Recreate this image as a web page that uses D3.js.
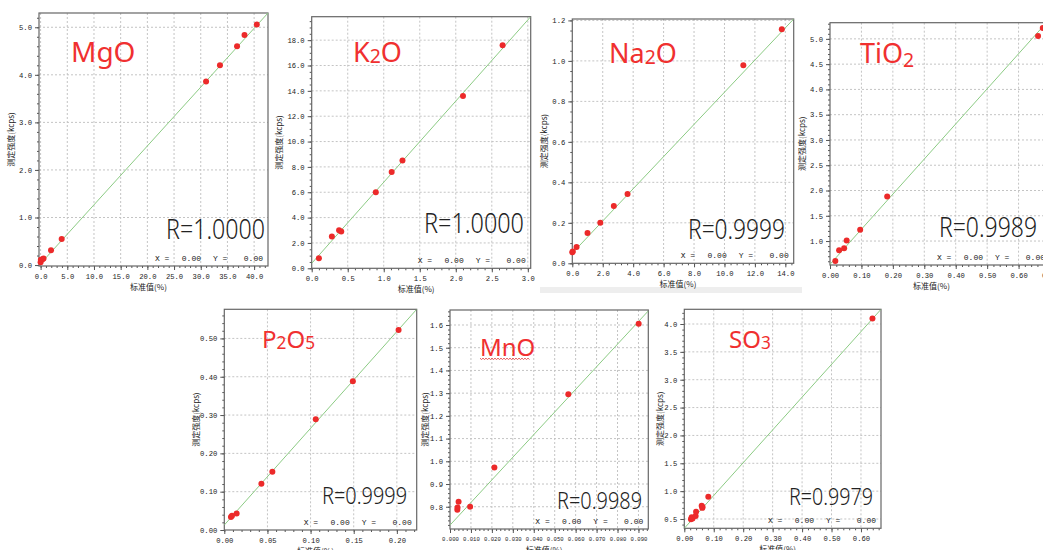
<!DOCTYPE html>
<html>
<head>
<meta charset="utf-8">
<script src="https://cdn.jsdelivr.net/npm/d3@7"></script>
<style>
  body { margin: 0; background: #fff; }
  svg { display: block; }
  .tick text { font-family: "Liberation Mono", monospace; font-size: 7.2px; fill: #222; }
  .tick line { stroke: #555; }
</style>
</head>
<body>
<svg id="chart" width="1043" height="550"></svg>
<script>
// values (x = 标准值 %, y = 测定强度 kcps)
const mgoX = [0.0, 0.05, 0.35, 0.55, 1.95, 3.95, 31.0, 33.6, 36.8, 38.2, 40.5];
const mgoY = [0.06, 0.11, 0.12, 0.14, 0.31, 0.55, 3.86, 4.20, 4.60, 4.84, 5.06];
const mgoLine = [[0, 0.03], [42.6, 5.30]];
const mgoXTicks = [0, 5, 10, 15, 20, 25, 30, 35, 40];
const mgoYTicks = [0, 1, 2, 3, 4, 5];

const k2oX = [0.10, 0.28, 0.38, 0.41, 0.89, 1.11, 1.26, 2.10, 2.65];
const k2oY = [0.79, 2.5, 3.0, 2.9, 6.0, 7.6, 8.5, 13.6, 17.6];
const k2oLine = [[0, 0.39], [3.04, 19.85]];
const k2oXTicks = [0, 0.5, 1.0, 1.5, 2.0, 2.5, 3.0];
const k2oYTicks = [0, 2, 4, 6, 8, 10, 12, 14, 16, 18];

const na2oX = [0.0, 0.03, 0.28, 1.0, 1.84, 2.73, 3.63, 11.24, 13.77];
const na2oY = [0.054, 0.058, 0.081, 0.15, 0.20, 0.283, 0.342, 0.979, 1.156];
const na2oLine = [[0, 0.05], [14.55, 1.207]];
const na2oXTicks = [0, 2, 4, 6, 8, 10, 12, 14];
const na2oYTicks = [0, 0.2, 0.4, 0.6, 0.8, 1.0, 1.2];

const tio2X = [0.017, 0.029, 0.045, 0.053, 0.096, 0.182, 0.662, 0.677];
const tio2Y = [0.605, 0.816, 0.855, 1.013, 1.224, 1.883, 5.058, 5.216];
const tio2Line = [[0, 0.539], [0.70, 5.40]];
const tio2XTicks = [0, 0.1, 0.2, 0.3, 0.4, 0.5, 0.6, 0.7];
const tio2YTicks = [1.0, 1.5, 2.0, 2.5, 3.0, 3.5, 4.0, 4.5, 5.0];

const p2o5X = [0.0077, 0.0089, 0.0143, 0.043, 0.0557, 0.106, 0.149, 0.202];
const p2o5Y = [0.034, 0.037, 0.043, 0.121, 0.152, 0.289, 0.388, 0.522];
const p2o5Line = [[0, 0.013], [0.223, 0.576]];
const p2o5XTicks = [0, 0.05, 0.10, 0.15, 0.20];
const p2o5YTicks = [0, 0.1, 0.2, 0.3, 0.4, 0.5];

const mnoX = [0.0035, 0.0036, 0.0041, 0.0096, 0.0212, 0.0565, 0.0901];
const mnoY = [0.787, 0.797, 0.822, 0.800, 0.973, 1.295, 1.605];
const mnoLine = [[0, 0.719], [0.0947, 1.662]];
const mnoXTicks = [0, 0.01, 0.02, 0.03, 0.04, 0.05, 0.06, 0.07, 0.08, 0.09];
const mnoYTicks = [0.8, 0.9, 1.0, 1.1, 1.2, 1.3, 1.4, 1.5, 1.6];

const so3X = [0.0226, 0.025, 0.028, 0.0385, 0.040, 0.059, 0.061, 0.062, 0.0815, 0.639];
const so3Y = [0.494, 0.530, 0.510, 0.554, 0.632, 0.740, 0.700, 0.716, 0.900, 4.10];
const so3Line = [[0, 0.333], [0.668, 4.264]];
const so3XTicks = [0, 0.1, 0.2, 0.3, 0.4, 0.5, 0.6];
const so3YTicks = [0.5, 1.0, 1.5, 2.0, 2.5, 3.0, 3.5, 4.0];

const xLabel = "标准值(%)";
const yLabel = "测定强度(kcps)";

// one entry per screenshot: frame box [x0, y0, x1, y1] in page px
const panels = [
  { title: [["MgO", 0]], tPos: [71, 62, 28], r: "R=1.0000", rPos: [265, 239, 27, 99],
    xs: mgoX, ys: mgoY, line: mgoLine, box: [39, 13, 268, 266],
    xDom: [-0.3, 42.6], yDom: [-0.02, 5.3], xTicks: mgoXTicks, yTicks: mgoYTicks,
    xMinor: 1, yMinor: 0.2, xFmt: ".1f", yFmt: ".1f", yLabX: 11 },
  { title: [["K", 0], ["2", 1], ["O", 0]], tPos: [353, 62, 27], r: "R=1.0000", rPos: [524, 233, 27, 100],
    xs: k2oX, ys: k2oY, line: k2oLine, box: [311.7, 16.7, 530.7, 268.3],
    xDom: [0, 3.04], yDom: [0, 19.85], xTicks: k2oXTicks, yTicks: k2oYTicks,
    xMinor: 0.1, yMinor: 0.5, xFmt: ".1f", yFmt: ".1f", yLabX: 279 },
  { title: [["Na", 0], ["2", 1], ["O", 0]], tPos: [609, 63, 27], r: "R=0.9999", rPos: [785, 239, 27, 97],
    xs: na2oX, ys: na2oY, line: na2oLine, box: [572.3, 19, 793.7, 263.3],
    xDom: [0, 14.55], yDom: [0, 1.207], xTicks: na2oXTicks, yTicks: na2oYTicks,
    xMinor: 0.4, yMinor: 0.05, xFmt: ".1f", yFmt: ".1f", yLabX: 544 },
  { title: [["TiO", 0], ["2", 2]], tPos: [860, 63, 27], r: "R=0.9989", rPos: [1037, 236.5, 27, 98],
    xs: tio2X, ys: tio2Y, line: tio2Line, box: [830, 22.7, 1050, 265],
    xDom: [0, 0.70], yDom: [0.526, 5.32], xTicks: tio2XTicks, yTicks: tio2YTicks,
    xMinor: 0.02, yMinor: 0.1, xFmt: ".2f", yFmt: ".1f", yLabX: 802 },
  { title: [["P", 0], ["2", 1], ["O", 0], ["5", 1]], tPos: [262, 348, 24], r: "R=0.9999", rPos: [407, 504, 23, 85],
    xs: p2o5X, ys: p2o5Y, line: p2o5Line, box: [224.3, 309.3, 416.7, 530],
    xDom: [0, 0.223], yDom: [0, 0.576], xTicks: p2o5XTicks, yTicks: p2o5YTicks,
    xMinor: 0.01, yMinor: 0.02, xFmt: ".2f", yFmt: ".2f", yLabX: 196 },
  { title: [["MnO", 0]], tPos: [480, 355.5, 24], r: "R=0.9989", rPos: [642, 509, 23, 85],
    xs: mnoX, ys: mnoY, line: mnoLine, box: [450, 310, 648.3, 529],
    xDom: [0, 0.0947], yDom: [0.702, 1.666], xTicks: mnoXTicks, yTicks: mnoYTicks,
    xMinor: 0.002, yMinor: 0.02, xFmt: ".3f", yFmt: ".1f", yLabX: 425, squiggle: true, xFont: 5.6 },
  { title: [["SO", 0], ["3", 1]], tPos: [729, 347.5, 24], r: "R=0.9979", rPos: [873, 505, 23, 84],
    xs: so3X, ys: so3Y, line: so3Line, box: [684.3, 309.3, 881, 528.3],
    xDom: [0, 0.668], yDom: [0.333, 4.264], xTicks: so3XTicks, yTicks: so3YTicks,
    xMinor: 0.02, yMinor: 0.1, xFmt: ".2f", yFmt: ".1f", yLabX: 660 }
];

const svg = d3.select("#chart");
const defs = svg.append("defs");

// light band under the Na2O screenshot
svg.append("rect").attr("x", 540).attr("y", 287).attr("width", 262).attr("height", 6).attr("fill", "#eeeeee");

panels.forEach((p, i) => {
  const [x0, y0, x1, y1] = p.box;
  const x = d3.scaleLinear().domain(p.xDom).range([x0, x1]);
  const y = d3.scaleLinear().domain(p.yDom).range([y1, y0]);
  const g = svg.append("g");

  defs.append("clipPath").attr("id", "clip" + i)
    .append("rect").attr("x", x0).attr("y", y0).attr("width", x1 - x0).attr("height", y1 - y0);

  // dashed grid
  g.append("g").selectAll("line")
    .data(p.xTicks.filter(v => x(v) > x0 + 1 && x(v) < x1 - 1))
    .join("line")
    .attr("x1", d => x(d)).attr("x2", d => x(d)).attr("y1", y0).attr("y2", y1)
    .attr("stroke", "#c4c4c4").attr("stroke-dasharray", "2,2");
  g.append("g").selectAll("line")
    .data(p.yTicks.filter(v => y(v) > y0 + 1 && y(v) < y1 - 1))
    .join("line")
    .attr("x1", x0).attr("x2", x1).attr("y1", d => y(d)).attr("y2", d => y(d))
    .attr("stroke", "#c4c4c4").attr("stroke-dasharray", "2,2");

  // minor ticks
  const xm = d3.range(Math.ceil(p.xDom[0] / p.xMinor - 1e-6), Math.floor(p.xDom[1] / p.xMinor + 1e-6) + 1).map(k => k * p.xMinor);
  const ym = d3.range(Math.ceil(p.yDom[0] / p.yMinor - 1e-6), Math.floor(p.yDom[1] / p.yMinor + 1e-6) + 1).map(k => k * p.yMinor);
  g.append("g").attr("transform", `translate(0,${y1})`)
    .call(d3.axisBottom(x).tickValues(xm).tickSize(2).tickSizeOuter(0).tickFormat(""))
    .call(a => a.select(".domain").remove());
  g.append("g").attr("transform", `translate(${x0},0)`)
    .call(d3.axisLeft(y).tickValues(ym).tickSize(2).tickSizeOuter(0).tickFormat(""))
    .call(a => a.select(".domain").remove());

  // major ticks + labels
  const xa = g.append("g").attr("transform", `translate(0,${y1})`)
    .call(d3.axisBottom(x).tickValues(p.xTicks).tickSize(4).tickPadding(4).tickSizeOuter(0).tickFormat(d3.format(p.xFmt)))
    .call(a => a.select(".domain").remove());
  if (p.xFont) xa.selectAll(".tick text").style("font-size", p.xFont + "px");
  g.append("g").attr("transform", `translate(${x0},0)`)
    .call(d3.axisLeft(y).tickValues(p.yTicks).tickSize(4).tickPadding(3).tickSizeOuter(0).tickFormat(d3.format(p.yFmt)))
    .call(a => a.select(".domain").remove());

  // frame
  g.append("rect").attr("x", x0).attr("y", y0).attr("width", x1 - x0).attr("height", y1 - y0)
    .attr("fill", "none").attr("stroke", "#666").attr("stroke-width", 1.2);

  // calibration line
  g.append("line").attr("clip-path", `url(#clip${i})`)
    .attr("x1", x(p.line[0][0])).attr("y1", y(p.line[0][1]))
    .attr("x2", x(p.line[1][0])).attr("y2", y(p.line[1][1]))
    .attr("stroke", "#8ccb84").attr("stroke-width", 1);

  // points
  g.append("g").selectAll("circle")
    .data(p.xs.map((v, k) => [v, p.ys[k]]))
    .join("circle")
    .attr("cx", d => x(d[0])).attr("cy", d => y(d[1])).attr("r", 3)
    .attr("fill", "#ec2a2a");

  // X = / Y = readout
  const ro = g.append("g").attr("font-family", "Liberation Mono, monospace").attr("font-size", 8).attr("fill", "#222");
  ro.append("text").attr("x", x1 - 113).attr("y", y1 - 5).text("X =");
  ro.append("text").attr("x", x1 - 67).attr("y", y1 - 5).attr("text-anchor", "end").text("0.00");
  ro.append("text").attr("x", x1 - 55).attr("y", y1 - 5).text("Y =");
  ro.append("text").attr("x", x1 - 5).attr("y", y1 - 5).attr("text-anchor", "end").text("0.00");

  // axis titles
  g.append("text").attr("x", (x0 + Math.min(x1, 1043)) / 2 - 5).attr("y", y1 + 24)
    .attr("text-anchor", "middle").attr("font-family", "Noto Sans CJK SC").attr("font-size", 8).attr("fill", "#222")
    .text(xLabel);
  g.append("text").attr("transform", `translate(${p.yLabX + 3},${(y0 + y1) / 2}) rotate(-90)`)
    .attr("text-anchor", "middle").attr("font-family", "Noto Sans CJK SC").attr("font-size", 8).attr("fill", "#222")
    .text(yLabel);

  // compound name
  const fs = p.tPos[2];
  const t = g.append("text").attr("x", p.tPos[0]).attr("y", p.tPos[1])
    .attr("font-family", "Noto Sans, sans-serif").attr("font-size", fs).attr("fill", "#f03030");
  let shift = 0;
  p.title.forEach(([s, sub]) => {
    const want = sub === 2 ? fs * 0.14 : sub === 1 ? fs * 0.05 : 0;
    t.append("tspan").attr("dy", want - shift).attr("font-size", sub ? fs * 0.72 : fs).text(s);
    shift = want;
  });
  if (p.squiggle) {
    const w = 50, sx = p.tPos[0], sy = p.tPos[1] + 3;
    const pts = d3.range(0, w + 1, 1.5).map((d, k) => [sx + d, sy + (k % 2 ? 1 : -0.3)]);
    g.append("path").attr("d", d3.line()(pts)).attr("fill", "none").attr("stroke", "#e03030").attr("stroke-width", 0.8);
  }

  // correlation
  g.append("text").attr("x", p.rPos[0]).attr("y", p.rPos[1]).attr("text-anchor", "end")
    .attr("font-family", "Noto Sans, sans-serif").attr("font-weight", 300).attr("font-size", p.rPos[2])
    .attr("textLength", p.rPos[3]).attr("lengthAdjust", "spacingAndGlyphs").attr("fill", "#222")
    .text(p.r);
});
</script>
</body>
</html>
